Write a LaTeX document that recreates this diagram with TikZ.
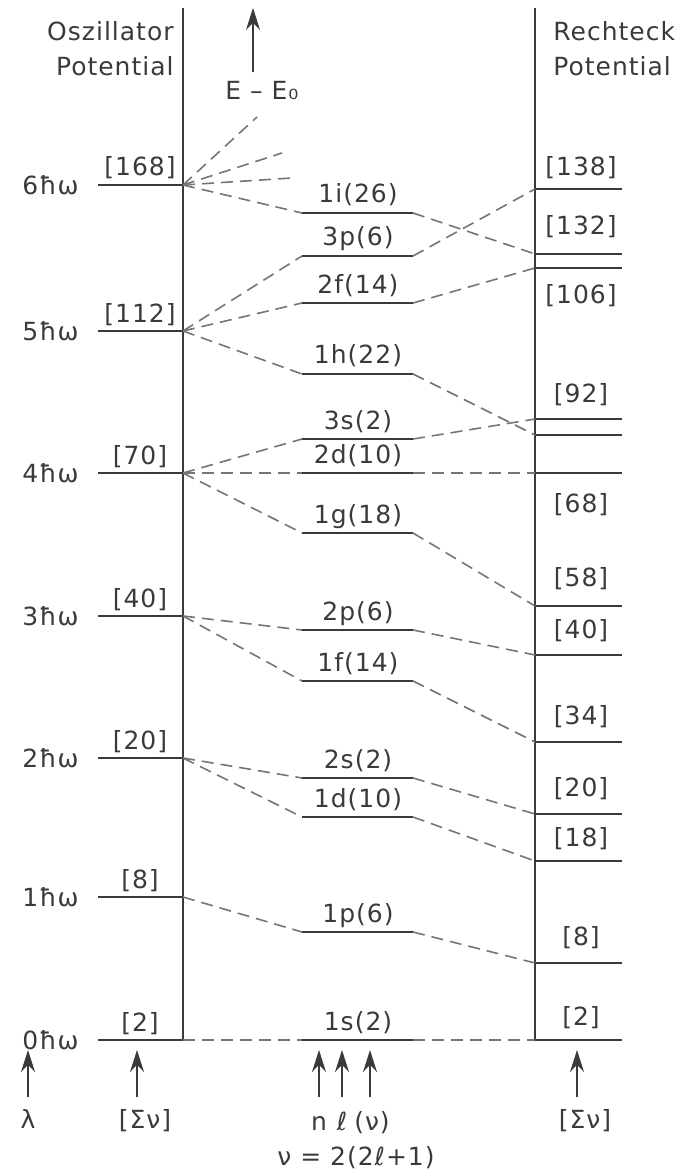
\documentclass[tikz,border=0pt]{standalone}
\usepackage{fontspec}
\setmainfont{DejaVu Sans}[LetterSpace=4]
\usetikzlibrary{arrows.meta}

\definecolor{ink}{HTML}{3A3A3A}

\newcommand{\xOL}{98}
\newcommand{\xO}{183}
\newcommand{\xML}{302}
\newcommand{\xMR}{413}
\newcommand{\xMC}{358}
\newcommand{\xR}{535}
\newcommand{\xRR}{622}
\newcommand{\yTop}{8}
\newcommand{\yBot}{1040}

\tikzset{
  axisline/.style={draw=ink,line width=1.1pt},
  lvl/.style={draw=ink,line width=1.2pt},
  conn/.style={draw=ink!70,line width=0.8pt,dash pattern=on 6pt off 3.5pt},
  lbl/.style={text=ink,font=\fontsize{12.5}{15}\selectfont,inner sep=0pt},
  up/.style={draw=ink,line width=0.6pt,-{Stealth[length=11pt,width=7pt]}},
}

% oscillator level: name, y, n, [sum]
\newcommand{\osclevel}[4]{%
  \coordinate (#1) at (\xO,#2);
  \coordinate (#1w) at (\xOL,#2);
  \draw[lvl] (#1w) -- (#1);
  \node[lbl,anchor=west] (#1lab) at (22,#2) {#3ħω};
  \node[lbl,anchor=base] (#1sum) at (140,#2-9) {[#4]};
}
% square well level: name, y
\newcommand{\boxlevel}[2]{%
  \coordinate (#1) at (\xR,#2);
  \coordinate (#1e) at (\xRR,#2);
  \draw[lvl] (#1) -- (#1e);
}
% shell in the middle: name, y, label, from, to
\newcommand{\orbital}[5]{%
  \coordinate (#1L) at (\xML,#2);
  \coordinate (#1R) at (\xMR,#2);
  \draw[lvl] (#1L) -- (#1R);
  \node[lbl,anchor=base] (#1lab) at (\xMC,#2-10) {#3};
  \draw[conn] (#4) -- (#1L);
  \draw[conn] (#1R) -- (#5);
}

\begin{document}
\begin{tikzpicture}[x=0.5pt,y=-0.5pt]
\useasboundingbox (0,0) rectangle (690,1176);

%% ---------------- the two potentials ----------------
\draw[axisline] (\xO,\yTop) -- (\xO,\yBot);
\draw[axisline] (\xR,\yTop) -- (\xR,\yBot);
\node[lbl,anchor=base east] (osztitle) at (174,41) {Oszillator};
\node[lbl,anchor=base east] (oszpot) at (174,76) {Potential};
\node[lbl,anchor=base west] (rechtitle) at (553,41) {Rechteck};
\node[lbl,anchor=base west] (rechpot) at (553,76) {Potential};

%% ---------------- oscillator levels ----------------
\osclevel{o0}{1040}{0}{2}
\osclevel{o1}{897}{1}{8}
\osclevel{o2}{758}{2}{20}
\osclevel{o3}{616}{3}{40}
\osclevel{o4}{473}{4}{70}
\osclevel{o5}{331}{5}{112}
\osclevel{o6}{185}{6}{168}

%% ---------------- square well levels ----------------
\boxlevel{r2}{1040}
\boxlevel{r8}{963}
\boxlevel{r18}{861}
\boxlevel{r20}{814}
\boxlevel{r34}{742}
\boxlevel{r40}{655}
\boxlevel{r58}{606}
\boxlevel{r68}{473}
\boxlevel{r90}{435}
\boxlevel{r92}{419}
\boxlevel{r106}{268}
\boxlevel{r132}{254}
\boxlevel{r138}{189}
\foreach \n/\y in {138/168,132/227,106/296,92/395,68/505,58/579,40/631,34/717,20/789,18/839,8/938,2/1018}
  \node[lbl] (sum\n) at (581,\y) {[\n]};

%% ---------------- shells ----------------
\orbital{s1i}{213}{1i(26)}{o6}{r132}
\orbital{s3p}{256}{3p(6)}{o5}{r138}
\orbital{s2f}{303}{2f(14)}{o5}{r106}
\orbital{s1h}{374}{1h(22)}{o5}{r90}
\orbital{s3s}{439}{3s(2)}{o4}{r92}
\orbital{s2d}{473}{2d(10)}{o4}{r68}
\orbital{s1g}{533}{1g(18)}{o4}{r58}
\orbital{s2p}{630}{2p(6)}{o3}{r40}
\orbital{s1f}{681}{1f(14)}{o3}{r34}
\orbital{s2s}{778}{2s(2)}{o2}{r20}
\orbital{s1d}{817}{1d(10)}{o2}{r18}
\orbital{s1p}{932}{1p(6)}{o1}{r8}
\orbital{s1s}{1040}{1s(2)}{o0}{r2}

%% ---------------- higher levels and energy axis ----------------
\coordinate (f1) at (257,117);
\coordinate (f2) at (282,153);
\coordinate (f3) at (292,178);
\foreach \f in {f1,f2,f3}
  \draw[conn] (o6) -- (\f);
\coordinate (etop) at (253,8);
\node[lbl] (energy) at (262,90) {E – E₀};
\draw[up,shorten <=4pt] (energy.north -| etop) -- (etop);

%% ---------------- key at the bottom ----------------
\node[lbl,anchor=base] (lam) at (28,1128) {λ};
\node[lbl,anchor=base] (sumL) at (145,1128) {[Σν]};
\node[lbl,anchor=base] (qn) at (319,1130) {n};
\node[lbl,anchor=base] (ql) at (342,1130) {ℓ};
\node[lbl,anchor=base] (qnu) at (372,1130) {(ν)};
\node[lbl,anchor=base] (sumR) at (585,1128) {[Σν]};
\node[lbl,anchor=base] (nueq) at (356,1165) {ν = 2(2ℓ+1)};
\foreach \a/\x in {a/28,b/137,c/319,d/342,e/370,f/577}{
  \coordinate (b\a) at (\x,1097);
  \coordinate (t\a) at (\x,1050);
  \draw[up] (b\a) -- (t\a);
}

\end{tikzpicture}
\end{document}
